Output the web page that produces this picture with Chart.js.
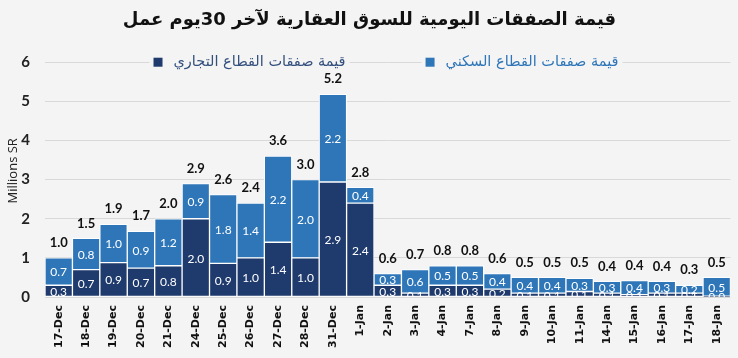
<!DOCTYPE html>
<html>
<head>
<meta charset="utf-8">
<script src="https://cdn.jsdelivr.net/npm/chart.js@4"></script>
<style>
  html, body { margin: 0; padding: 0; background: #f4f4f4; }
  #wrap { width: 738px; height: 358px; }
</style>
</head>
<body>
<div id="wrap"><canvas id="dailyDeals"></canvas></div>
<script>
const days = ['17-Dec', '18-Dec', '19-Dec', '20-Dec', '21-Dec', '24-Dec', '25-Dec', '26-Dec', '27-Dec', '28-Dec', '31-Dec',
    '1-Jan', '2-Jan', '3-Jan', '4-Jan', '7-Jan', '8-Jan', '9-Jan', '10-Jan', '11-Jan', '14-Jan', '15-Jan', '16-Jan', '17-Jan', '18-Jan']

// millions SR
const commercial = [0.3, 0.7, 0.88, 0.74, 0.8, 2.0, 0.86, 1.0, 1.4, 1.0, 2.94,
    2.4, 0.3, 0.1, 0.3, 0.3, 0.2, 0.1, 0.1, 0.14, 0.1, 0.06, 0.1, 0.1, 0.02]
const residential = [0.7, 0.8, 0.98, 0.94, 1.2, 0.9, 1.76, 1.4, 2.2, 2.0, 2.24,
    0.4, 0.3, 0.6, 0.5, 0.5, 0.4, 0.4, 0.4, 0.34, 0.3, 0.36, 0.3, 0.2, 0.48]

const commercialName = 'قيمة صفقات القطاع التجاري'
const residentialName = 'قيمة صفقات القطاع السكني'
const chartTitle = 'قيمة الصفقات اليومية للسوق العقارية لآخر 30يوم عمل'

const darkBlue = '#1f3a6c'
const lightBlue = '#2e76b8'
const bgColor = '#f4f4f4'

// numbers inside the segments and totals on top
const valueLabels = {
    id: 'valueLabels',
    afterDatasetsDraw(chart) {
        let ctx = chart.ctx
        let area = chart.chartArea
        ctx.save()
        ctx.beginPath()
        ctx.rect(0, 0, chart.width, area.bottom)
        ctx.clip()
        ctx.textAlign = 'center'
        ctx.textBaseline = 'middle'
        ctx.font = '12px Lato'
        ctx.fillStyle = '#ffffff'
        chart.data.datasets.forEach((ds, di) => {
            let meta = chart.getDatasetMeta(di)
            meta.data.forEach((bar, i) => {
                ctx.fillText(ds.data[i].toFixed(1), bar.x, (bar.y + bar.base) / 2 + 1)
            })
        })
        let topMeta = chart.getDatasetMeta(1)
        ctx.font = 'bold 13px Lato'
        ctx.fillStyle = '#111111'
        topMeta.data.forEach((bar, i) => {
            ctx.fillText((commercial[i] + residential[i]).toFixed(1), bar.x, bar.y - 15)
        })
        ctx.restore()
    }
}

// legend sitting on the top gridline, like the original
const lineLegend = {
    id: 'lineLegend',
    afterDraw(chart) {
        let ctx = chart.ctx
        let y = chart.scales.y.getPixelForValue(6)
        let items = [
            {text: commercialName, box: darkBlue, color: '#34507e'},
            {text: residentialName, box: lightBlue, color: lightBlue}
        ]
        let box = 9, gap = 11, spacing = 80
        ctx.save()
        ctx.font = '14.5px "DejaVu Sans"'
        ctx.textBaseline = 'middle'
        ctx.textAlign = 'left'
        let widths = items.map(it => ctx.measureText(it.text).width)
        let total = widths.reduce((a, b) => a + b, 0) + items.length * (box + gap) + spacing
        let x = 386 - total / 2
        items.forEach((it, i) => {
            ctx.fillStyle = bgColor
            ctx.fillRect(x - 4, y - 9, box + gap + widths[i] + 8, 18)
            ctx.fillStyle = it.box
            ctx.fillRect(x, y - box / 2, box, box)
            ctx.fillStyle = it.color
            ctx.fillText(it.text, x + box + gap, y)
            x += box + gap + widths[i] + spacing
        })
        ctx.restore()
    }
}

let ctxEl = document.getElementById('dailyDeals')
let myChart = new Chart(ctxEl, {
    type: 'bar',
    data: {
        labels: days,
        datasets: [{
            label: commercialName,
            data: commercial,
            backgroundColor: darkBlue,
            borderColor: '#ffffff',
            borderWidth: 1,
            borderSkipped: false
        }, {
            label: residentialName,
            data: residential,
            backgroundColor: lightBlue,
            borderColor: '#ffffff',
            borderWidth: 1,
            borderSkipped: false
        }]
    },
    options: {
        responsive: true,
        maintainAspectRatio: false,
        animation: false,
        layout: {
            padding: {left: 4, right: 3, top: 0, bottom: 2}
        },
        datasets: {
            bar: {categoryPercentage: 1, barPercentage: 1}
        },
        plugins: {
            title: {
                display: true,
                text: chartTitle,
                color: '#111111',
                font: {family: 'DejaVu Sans', size: 18, weight: 'bold'},
                padding: {top: 10, bottom: 13}
            },
            legend: {display: false},
            tooltip: {enabled: false}
        },
        scales: {
            x: {
                stacked: true,
                grid: {display: false, drawTicks: false},
                border: {display: false},
                ticks: {
                    autoSkip: false,
                    minRotation: 90,
                    maxRotation: 90,
                    padding: 8,
                    color: '#111111',
                    font: {family: 'DejaVu Sans', size: 11, weight: 'bold'}
                }
            },
            y: {
                stacked: true,
                min: 0,
                max: 6.45,
                afterFit(scale) { scale.width = 41 },
                grid: {color: '#d9d9d9', drawTicks: false},
                border: {display: false},
                ticks: {
                    stepSize: 1,
                    includeBounds: false,
                    padding: 15,
                    color: '#222222',
                    font: {family: 'Lato', size: 15, weight: 'bold'}
                },
                title: {
                    display: true,
                    text: 'Millions SR',
                    color: '#222222',
                    font: {family: 'Open Sans', size: 13},
                    padding: {top: 1, bottom: 2}
                }
            }
        }
    },
    plugins: [valueLabels, lineLegend]
})
</script>
</body>
</html>
